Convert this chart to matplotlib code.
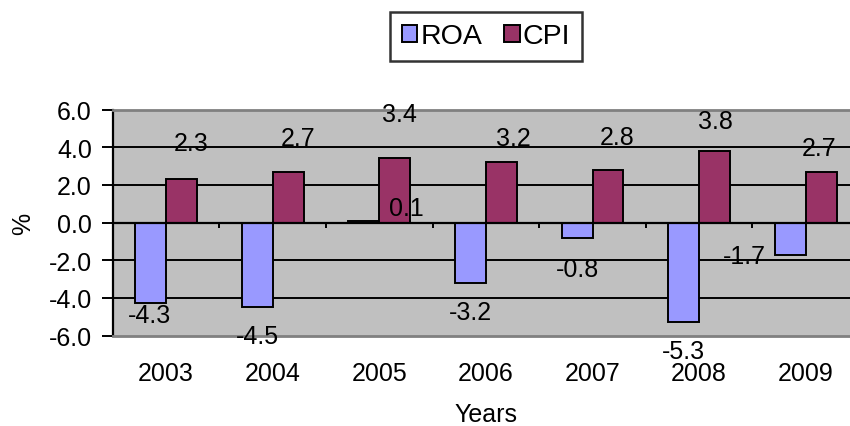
import matplotlib
matplotlib.use('Agg')
import matplotlib.pyplot as plt
import numpy as np
from matplotlib.patches import Patch

plt.rcParams['font.family'] = ['Liberation Sans', 'DejaVu Sans']

# data
years = ['2003', '2004', '2005', '2006', '2007', '2008', '2009']
roa = [-4.3, -4.5, 0.1, -3.2, -0.8, -5.3, -1.7]
cpi = [2.3, 2.7, 3.4, 3.2, 2.8, 3.8, 2.7]

# label centre offsets (pixels) from the bar end, as placed in the original
roa_off = [(-1, -10), (0, -27), (43, 15), (0, -27), (0, -29), (0, -27), (-46, 0)]
cpi_off = [(10, 38), (10, 36), (5, 46), (12, 26), (9, 35), (1, 32), (-2, 26)]

ROA_COLOR = '#9999FF'
CPI_COLOR = '#993366'
FS = 18
CAP = 0.716 * FS * 100 / 72  # cap height in px

W, H = 850, 427
fig = plt.figure(figsize=(W / 100, H / 100), dpi=100)
# plot area runs past the right edge of the image, as in the original
ax = fig.add_axes([112.7 / W, 1 - 336.5 / H, 746.4 / W, 226 / H])
ax.set_facecolor('#C0C0C0')

x = np.arange(len(years))
w = 0.29
ax.bar(x - w/2, roa, w, color=ROA_COLOR, edgecolor='black', linewidth=1.4, zorder=3)
ax.bar(x + w/2, cpi, w, color=CPI_COLOR, edgecolor='black', linewidth=1.4, zorder=3)

# gridlines
for yv in np.arange(-4, 6.1, 2):
    ax.axhline(yv, color='black', linewidth=1.4, zorder=1)
ax.axhline(0, color='black', linewidth=1.6, zorder=4)
# category tick marks on the zero line
ax.vlines(np.arange(len(years) + 1) - 0.5, -0.3, 0, color='black', linewidth=1.4, zorder=4)

# data labels
for i in range(len(years)):
    dx, dy = roa_off[i]
    ax.annotate(f'{roa[i]:.1f}', (x[i] - w/2, roa[i]), xytext=(dx, dy - CAP / 2),
                textcoords='offset pixels', ha='center', va='baseline', fontsize=FS, zorder=5)
    dx, dy = cpi_off[i]
    ax.annotate(f'{cpi[i]:.1f}', (x[i] + w/2, cpi[i]), xytext=(dx, dy - CAP / 2),
                textcoords='offset pixels', ha='center', va='baseline', fontsize=FS, zorder=5)

ax.set_xlim(-0.5, len(years) - 0.5)
ax.set_ylim(-6, 6)
ax.set_yticks(np.arange(-6, 6.1, 2))
ax.set_yticklabels([f'{v:.1f}' for v in np.arange(-6, 6.1, 2)])
ax.set_xticks(x)
ax.set_xticklabels(years)
ax.tick_params(axis='x', length=0, pad=18.5, labelsize=FS)
ax.tick_params(axis='y', length=8, width=1.4, direction='out', labelsize=FS, pad=7)

for s in ['top', 'right', 'bottom']:
    ax.spines[s].set_color('#808080')
    ax.spines[s].set_linewidth(2)
ax.spines['left'].set_color('black')
ax.spines['left'].set_linewidth(1.6)

ax.set_ylabel('%', fontsize=FS, labelpad=10)
ax.set_xlabel('Years', fontsize=FS, labelpad=12)

handles = [Patch(facecolor=ROA_COLOR, edgecolor='black', linewidth=1.4, label='ROA'),
           Patch(facecolor=CPI_COLOR, edgecolor='black', linewidth=1.4, label='CPI')]
leg = fig.legend(handles=handles, loc='center', bbox_to_anchor=(486 / W, 1 - 37.5 / H),
                 ncol=2, fontsize=20.5, frameon=True, fancybox=False,
                 handlelength=0.55, handleheight=0.55, handletextpad=0.12,
                 columnspacing=0.75, borderpad=0.42)
leg.get_frame().set_edgecolor('black')
leg.get_frame().set_linewidth(1.8)

fig.savefig('out.png', dpi=100, facecolor='white')
